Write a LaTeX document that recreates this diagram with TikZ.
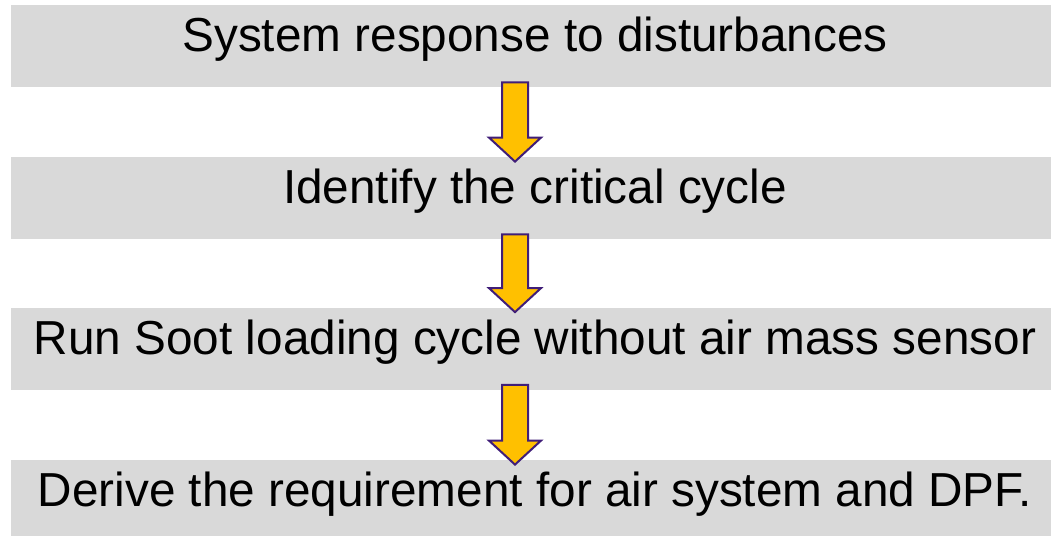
\documentclass[tikz,border=0pt]{standalone}
\usepackage{fontspec}
\setmainfont{Liberation Sans}
\usetikzlibrary{calc}

\definecolor{boxgray}{HTML}{D9D9D9}
\definecolor{arrowgold}{HTML}{FFC000}
\definecolor{arrowline}{RGB}{64,30,120}

\tikzset{
    stepbox/.style={fill=boxgray, inner sep=0pt,
        minimum width=524pt, minimum height=41pt,
        text height=17pt, text depth=11.5pt,
        font=\fontsize{23.85}{28}\selectfont},
    blockarrow/.style={fill=arrowgold, draw=arrowline, line width=1pt, line join=miter}
}

\begin{document}
\begin{tikzpicture}[x=0.5pt, y=-0.5pt]
    \useasboundingbox (0,0) rectangle (1051,536);

    % Blocchi grigi
    \node[stepbox] (resp) at (535,46)  {System response to disturbances};
    \node[stepbox] (crit) at (535,198) {Identify the critical cycle};
    \node[stepbox] (soot) at (535,348.5) {Run Soot loading cycle without air mass sensor};
    \node[stepbox] (req)  at (535,501) {Derive the requirement for air system and DPF.};

    % Frecce gialle tra i blocchi
    \foreach \a/\b in {resp/crit, crit/soot, soot/req} {
        \coordinate (t) at ($(\a.south)+(-20,-5)$);
        \coordinate (h) at ($(\b.north)+(-20,5)$);
        \draw[blockarrow] ($(t)+(-13,0)$) -- ($(t)+(13,0)$) -- ($(h)+(13,-24)$) -- ($(h)+(26,-24)$)
            -- (h) -- ($(h)+(-26,-24)$) -- ($(h)+(-13,-24)$) -- cycle;
    }

\end{tikzpicture}
\end{document}
